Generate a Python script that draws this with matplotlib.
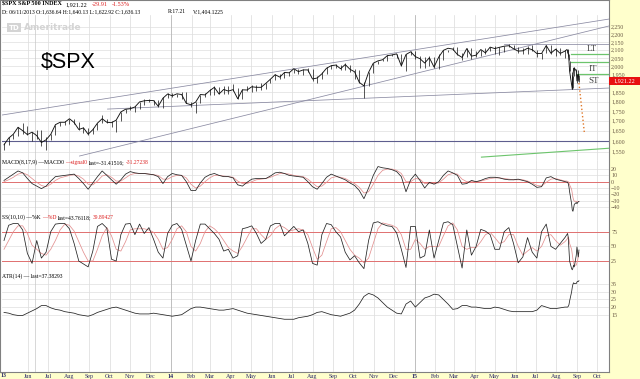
import pandas as pd
import matplotlib
matplotlib.use("Agg")
import matplotlib.pyplot as plt
from matplotlib.patches import Rectangle
from matplotlib.ticker import NullLocator

W, H = 640, 379

week_first = "2013-04-26"
n_weeks = 121
tail_days = ["2015-08-17", "2015-08-18", "2015-08-19", "2015-08-20", "2015-08-21",
             "2015-08-24", "2015-08-25", "2015-08-26", "2015-08-27", "2015-08-28",
             "2015-08-31", "2015-09-01", "2015-09-02", "2015-09-03", "2015-09-04"]
last_price = 1921.22

spx_close = [1582, 1614, 1633, 1667, 1650, 1631, 1643, 1626, 1593, 1606, 1632, 1680, 1692, 1692, 1710, 1691, 1656, 1664,
             1633, 1655, 1688, 1710, 1692, 1690, 1703, 1745, 1759, 1762, 1771, 1798, 1804, 1806, 1805, 1775, 1818, 1841,
             1831, 1842, 1838, 1790, 1783, 1797, 1838, 1836, 1859, 1878, 1841, 1866, 1857, 1865, 1815, 1864, 1863, 1881,
             1878, 1878, 1900, 1924, 1950, 1936, 1963, 1961, 1985, 1968, 1978, 1978, 1925, 1931, 1955, 1988, 2003, 2007,
             1985, 2010, 1982, 1967, 1906, 1886, 1964, 2018, 2032, 2039, 2064, 2068, 2075, 2002, 2071, 2088,
             2058, 2045, 2019, 2051, 1995, 2055, 2097, 2110, 2105, 2071, 2053, 2108, 2061, 2067, 2102, 2081, 2117, 2108,
             2116, 2123, 2126, 2107, 2092, 2094, 2110, 2101, 2077, 2077, 2127, 2079, 2104, 2078, 2092,
             2102, 2097, 2079, 2036, 1971, 1893, 1868, 1940, 1988, 1989, 1972, 1914, 1949, 1951, 1921]
spx_high = [1592, 1618, 1635, 1667, 1687, 1674, 1644, 1654, 1654, 1620, 1632, 1680, 1693, 1698, 1709, 1710, 1695, 1669,
            1664, 1664, 1690, 1729, 1711, 1700, 1703, 1745, 1759, 1775, 1774, 1798, 1813, 1813, 1810, 1809, 1823, 1844,
            1849, 1843, 1851, 1850, 1798, 1798, 1838, 1847, 1867, 1883, 1882, 1883, 1884, 1897, 1875, 1869, 1884, 1891,
            1889, 1902, 1901, 1924, 1955, 1956, 1968, 1968, 1985, 1985, 1983, 1991, 1985, 1942, 1964, 1994, 2005, 2011,
            2007, 2019, 2009, 1986, 1977, 1906, 1965, 2018, 2034, 2046, 2071, 2075, 2076, 2075, 2077, 2094,
            2093, 2064, 2056, 2064, 2058, 2072, 2097, 2101, 2119, 2117, 2083, 2114, 2111, 2091, 2102, 2111, 2120, 2125,
            2117, 2124, 2134, 2133, 2117, 2109, 2127, 2128, 2102, 2083, 2132, 2128, 2114, 2113, 2098,
            2102, 2103, 2096, 2073, 2034, 1965, 1949, 1943, 1989, 1993, 1986, 1948, 1948, 1975, 1947]
spx_low = [1560, 1581, 1609, 1623, 1635, 1630, 1598, 1610, 1577, 1560, 1604, 1631, 1672, 1676, 1681, 1684, 1654, 1639,
           1627, 1633, 1655, 1686, 1687, 1670, 1646, 1700, 1741, 1753, 1746, 1762, 1784, 1800, 1779, 1772, 1767, 1818,
           1826, 1823, 1815, 1790, 1770, 1737, 1794, 1825, 1836, 1834, 1839, 1839, 1842, 1856, 1814, 1816, 1859, 1851,
           1859, 1862, 1868, 1900, 1920, 1928, 1930, 1944, 1958, 1952, 1951, 1965, 1916, 1904, 1928, 1955, 1986, 1990,
           1980, 1978, 1965, 1926, 1905, 1821, 1886, 1960, 2011, 2030, 2034, 2064, 2049, 2001, 1972, 2065,
           2046, 1992, 1988, 2004, 1990, 1981, 2038, 2085, 2101, 2066, 2039, 2055, 2045, 2057, 2061, 2073, 2091, 2077,
           2067, 2085, 2115, 2105, 2081, 2073, 2072, 2095, 2056, 2044, 2078, 2072, 2063, 2067, 2052,
           2079, 2094, 2070, 2036, 1971, 1867, 1868, 1872, 1942, 1975, 1965, 1903, 1916, 1945, 1909]

macd = [2, 7, 12, 17, 14, 5, -3, -7, -11, -7, 1, 8, 9, 10, 11, 12, 5, -3, -12, -2,
        8, 17, 10, 3, -4, 3, 12, 16, 14, 13, 13, 12, 11, 8, -3, 8, 13, 11, 10, 0,
        -14, -14, -2, 7, 11, 13, 10, 8, 8, 6, -5, -7, -1, 4, 5, 5, 5, 9, 14, 15,
        13, 10, 9, 8, 7, 0, -8, -12, -3, 7, 12, 9, 6, 3, -2, -6, -14, -27, -10, 10,
        24, 22, 21, 19, 16, 8, -16, 3, 12, 2, -10, -1, -4, 0, 10, 17, 14, 10, -4, -3,
        2, 0, 2, 5, 7, 7, 6, 4, 3, 3, 4, 2, 0, -4, -9, -8, 6, 8, 4, 2, 0,
        -1, -1, -3, -8, -16, -35, -45, -47, -42, -36, -33, -35, -33, -32, -31.4]
macd_signal = [0, 3, 7, 12, 14, 11, 5, -1, -6, -8, -4, 2, 6, 8, 10, 11, 9, 4, -4, -5,
               1, 9, 11, 7, 1, 1, 6, 11, 13, 13, 13, 12, 11, 10, 4, 4, 8, 10, 10, 6,
               -4, -10, -7, 0, 6, 10, 10, 9, 8, 7, 1, -3, -3, 0, 3, 4, 5, 7, 10, 13,
               13, 12, 10, 9, 8, 4, -2, -8, -7, -1, 6, 8, 7, 5, 1, -3, -9, -18, -16, -4,
               10, 18, 20, 20, 18, 13, 0, 0, 5, 4, -3, -3, -3, -2, 4, 11, 13, 12, 4, 0,
               0, 0, 1, 3, 5, 6, 6, 5, 4, 3, 3, 3, 1, -2, -6, -7, -1, 4, 5, 3, 1,
               1, 0, 0, -2, -5, -12, -19, -25, -29, -31, -31, -32, -32, -31.5, -31.3]

stoch_k = [60, 86, 89, 89, 78, 38, 21, 60, 30, 40, 75, 88, 89, 89, 80, 55, 25, 20, 15, 42,
           84, 89, 81, 28, 25, 70, 88, 89, 70, 88, 72, 82, 62, 40, 30, 72, 86, 89, 79, 52,
           25, 60, 88, 88, 80, 72, 62, 42, 45, 30, 34, 80, 82, 85, 72, 55, 62, 85, 89, 89,
           68, 76, 84, 75, 78, 55, 21, 18, 70, 89, 87, 75, 66, 40, 27, 34, 22, 12, 60, 90,
           92, 88, 85, 84, 73, 45, 14, 84, 84, 30, 34, 78, 30, 60, 90, 92, 87, 50, 13, 78,
           35, 50, 79, 76, 70, 45, 45, 75, 82, 55, 22, 32, 65, 40, 30, 75, 88, 50, 45, 55, 65,
           70, 72, 65, 45, 25, 12, 10, 13, 18, 15, 35, 49, 40, 32, 43.76]
stoch_d = [45, 60, 75, 85, 85, 72, 52, 45, 38, 35, 45, 60, 78, 88, 86, 76, 58, 40, 25, 25,
           45, 68, 82, 68, 45, 42, 58, 78, 80, 80, 80, 78, 74, 62, 45, 48, 62, 80, 85, 75,
           50, 42, 55, 75, 85, 80, 72, 60, 48, 42, 38, 50, 65, 80, 80, 70, 62, 68, 80, 86,
           82, 76, 78, 80, 78, 70, 48, 28, 35, 58, 80, 82, 75, 60, 45, 35, 30, 22, 30, 55,
           80, 90, 88, 86, 82, 70, 45, 45, 62, 55, 45, 50, 50, 50, 68, 85, 90, 78, 50, 45,
           48, 48, 58, 70, 74, 65, 55, 58, 70, 70, 50, 35, 42, 48, 42, 50, 68, 70, 60, 52, 58,
           62, 64, 66, 62, 55, 45, 36, 28, 22, 18, 18, 22, 26, 33, 39.89]

atr = [16.5, 16, 15, 14.5, 14.5, 16, 17.5, 19, 21, 21, 19.5, 18.5, 18, 17, 16.5, 16, 15, 14.5, 14, 15,
       16.5, 17.5, 18.5, 19.5, 20, 19, 18, 17, 16, 15.5, 15.5, 15.5, 16, 15.5, 15, 14.5, 14, 14.5, 15, 17,
       19, 20, 20, 19.5, 19, 18.5, 18, 18, 18.5, 19, 18, 17, 16, 15.5, 15, 14.5, 14, 13.5, 13, 12.5,
       12, 12, 12, 13, 13.5, 14, 15, 16.5, 17, 16, 15, 14.5, 14, 15, 16, 18, 22, 27, 29, 28,
       26, 23, 20, 18, 16, 15.5, 22, 24, 20, 23, 26, 27, 28.5, 28, 25, 22, 18.5, 19, 21, 21,
       20, 20, 19.5, 19, 19, 20, 19.5, 18.5, 17.5, 17, 17, 17, 17, 17, 18, 21, 20, 19, 19, 19.5, 20,
       20, 20, 20.5, 21.5, 24, 30, 33, 35, 36, 35.5, 35.5, 36.5, 37, 36.8, 37.38]

# drawn trend lines: (start date, start price, end date, end price)
trend_lines = [("2013-04-23", 1729, "2015-10-19", 2302),
               ("2013-08-17", 1530, "2015-10-19", 2255),
               ("2013-09-28", 1760, "2015-10-19", 1874),
               ("2015-05-15", 2135, "2015-10-19", 2135)]
green_levels = [("LT", 2072, "2015-08-23"), ("IT", 2023, "2015-08-23"), ("ST", 1954, "2015-09-01")]
green_slope = ("2015-04-11", 1525, "2015-10-19", 1566)
projection = ("2015-09-04", 1902, "2015-09-12", 1643)
cursor_day = "2013-06-11"

dates = pd.date_range(week_first, periods=n_weeks, freq="7D").append(pd.to_datetime(tail_days))
for series in (spx_close, spx_high, spx_low, macd, macd_signal, stoch_k, stoch_d, atr):
    assert len(series) == len(dates), len(series)

SMALL = "Liberation Serif"
RED = "#dd2222"
fig = plt.figure(figsize=(6.4, 3.79), dpi=100, facecolor="#ffffcc")
renderer = fig.canvas.get_renderer()


def fx(x):
    return x / W


def fy(y):
    return 1 - y / H


bg = fig.add_axes([0, fy(372), fx(609), 372 / H])
bg.set_facecolor("white")
bg.set_xticks([])
bg.set_yticks([])
for s in bg.spines.values():
    s.set_color("#808080")
    s.set_linewidth(0.8)


def panel(top, bottom, sharex=None):
    ax = fig.add_axes([fx(2), fy(bottom), fx(607), (bottom - top) / H], sharex=sharex)
    ax.set_facecolor("none")
    for s in ax.spines.values():
        s.set_visible(False)
    ax.yaxis.tick_right()
    ax.tick_params(axis="y", length=0, pad=1.5, labelsize=4.3, labelcolor="#6b5b45")
    ax.tick_params(axis="x", length=0, labelbottom=False)
    return ax


ax_p = panel(15, 160)
ax_m = panel(160, 212, ax_p)
ax_s = panel(212, 270, ax_p)
ax_a = panel(270, 372, ax_p)
axes = [ax_p, ax_m, ax_s, ax_a]

ax_p.set_xlim(pd.Timestamp("2013-04-23"), pd.Timestamp("2015-10-19"))
months = pd.date_range("2013-06-01", "2015-10-01", freq="MS")
month_labels = [m.strftime("%y") if m.month == 1 else m.strftime("%b") for m in months]
ax_a.set_xticks(months)
ax_a.set_xticklabels(month_labels)
ax_a.tick_params(axis="x", labelbottom=True, pad=1.2, labelsize=4.3, labelcolor="#2a2a6a")
for lab in ax_a.get_xticklabels():
    lab.set_family(SMALL)
    if lab.get_text() in ("14", "15"):
        lab.set_fontweight("bold")
fig.text(fx(4), fy(375.5), "13", fontsize=4.3, family=SMALL, color="#2a2a6a",
         fontweight="bold", ha="center", va="center")

for ax in axes:
    ax.grid(axis="x", color="#dadada", lw=0.5)
    ax.grid(axis="y", color="#dedede", lw=0.5)
    for yr in ("2014-01-01", "2015-01-01"):
        ax.axvline(pd.Timestamp(yr), color="#b0b0b0", lw=0.5)
    ax.axvline(pd.Timestamp(cursor_day), color="#c8c8c8", lw=0.5)
    ax.set_axisbelow(True)

# price panel; the 1,900 label sits under the last-price flag
ax_p.set_yscale("log")
ax_p.set_ylim(1512, 2330)
price_ticks = list(range(1550, 2300, 50))
ax_p.set_yticks(price_ticks)
ax_p.set_yticklabels(["" if v == 1900 else f"{v:,}" for v in price_ticks])
ax_p.yaxis.set_minor_locator(NullLocator())

ax_p.axhline(1600, color="#5e5e8e", lw=0.8)
for d0, p0, d1, p1 in trend_lines:
    ax_p.plot([pd.Timestamp(d0), pd.Timestamp(d1)], [p0, p1], color="#8a8aa2", lw=0.55)
d0, p0, d1, p1 = green_slope
ax_p.plot([pd.Timestamp(d0), pd.Timestamp(d1)], [p0, p1], color="#6cc46c", lw=0.8)
for name, level, start in green_levels:
    ax_p.plot([pd.Timestamp(start), pd.Timestamp("2015-10-19")], [level, level], color="#6cc46c", lw=0.9)
ax_p.text(pd.Timestamp("2015-09-24"), 2072 * 1.004, "LT", fontsize=6.5, family=SMALL, color="#404040",
          ha="center", va="bottom")
ax_p.text(pd.Timestamp("2015-09-25"), 2023 * 0.993, "IT", fontsize=6.5, family=SMALL, color="#404040",
          ha="center", va="top")
ax_p.text(pd.Timestamp("2015-09-26"), 1954 * 0.992, "ST", fontsize=6.5, family=SMALL, color="#404040",
          ha="center", va="top")
d0, p0, d1, p1 = projection
ax_p.plot([pd.Timestamp(d0), pd.Timestamp(d1)], [p0, p1], color="#e0782a", lw=1.0, ls=":")

ax_p.vlines(dates, spx_low, spx_high, color="#111111", lw=0.5)
ax_p.plot(dates, spx_close, color="#111111", lw=0.65)

# MACD panel
ax_m.set_ylim(-48.1, 34.4)
ax_m.set_yticks([20, 10, 0, -10, -20, -30, -40])
ax_m.axhline(0, color="#e07070", lw=0.7)
ax_m.plot(dates, macd_signal, color="#e39090", lw=0.55)
ax_m.plot(dates, macd, color="#222222", lw=0.55)

# slow stochastic panel
ax_s.set_ylim(9.7, 108.6)
ax_s.set_yticks([75, 50, 25])
for lvl in (75, 25):
    ax_s.axhline(lvl, color="#e07070", lw=0.7)
ax_s.plot(dates, stoch_d, color="#e39090", lw=0.55, clip_on=False)
ax_s.plot(dates, stoch_k, color="#222222", lw=0.55, clip_on=False)

# ATR panel
ax_a.set_ylim(-22.7, 44.4)
ax_a.set_yticks([35, 30, 25, 20, 15])
ax_a.plot(dates, atr, color="#222222", lw=0.55)

for ax in axes:
    for lab in ax.get_yticklabels():
        lab.set_family(SMALL)


def chain(x, y, parts, size=4.1, weight="normal", gap=2.0):
    # texts laid one after another on a common baseline (y in pixels from the top)
    for text, color in parts:
        t = fig.text(fx(x), fy(y), text, color=color, fontsize=size, family=SMALL,
                     va="baseline", ha="left", fontweight=weight)
        x = t.get_window_extent(renderer).x1 + gap
        weight = "normal"


chain(2, 6, [(r"\$SPX S&P 500 INDEX", "black"), (f"{last_price:,.2f}", "black"), ("-29.91", RED),
             ("-1.53%", RED)], size=4.4, weight="bold", gap=4)
fig.text(fx(2), fy(13), "D: 06/11/2013 O:1,636.64 H:1,640.13 L:1,622.92 C:1,636.13",
         fontsize=4.1, family=SMALL, va="baseline")
fig.text(fx(168), fy(13), "R:17.21", fontsize=4.1, family=SMALL, va="baseline")
fig.text(fx(193), fy(13), "V:1,404.1225", fontsize=4.1, family=SMALL, va="baseline")

chain(2, 164, [("MACD(8,17,9) \u2014MACD0", "black"), ("\u2014signal0", RED),
               ("last=-31.41516;", "black"), ("-31.27238", RED)], gap=1.5)
chain(2, 219, [("SS(10,10) \u2014%K", "black"), ("\u2014%D", RED),
               ("last=43.76118;", "black"), ("39.89427", RED)], gap=1.5)
chain(2, 278, [("ATR(14) \u2014 last=37.38293", "black")])

# watermark and big symbol
fig.text(fx(9), fy(27.5), "TD", fontsize=5, color="white", fontweight="bold", va="center",
         bbox=dict(facecolor="#d4d4d4", edgecolor="none", pad=1.2))
fig.text(fx(24), fy(27.5), "Ameritrade", fontsize=6.5, color="#d4d4d4", fontweight="bold", va="center")
fig.text(fx(41), fy(62), r"\$SPX", fontsize=15.5, family="Liberation Sans", color="black", va="center")

# last price flag on the right axis
fig.patches.append(Rectangle((fx(609), fy(84.5)), fx(31), 8 / H, transform=fig.transFigure,
                             facecolor="#e81010", edgecolor="none"))
fig.text(fx(624.5), fy(80.5), f"{last_price:,.2f}", fontsize=4.4,
         family=SMALL, color="white", ha="center", va="center")

fig.savefig("out.png", dpi=100, facecolor=fig.get_facecolor())
